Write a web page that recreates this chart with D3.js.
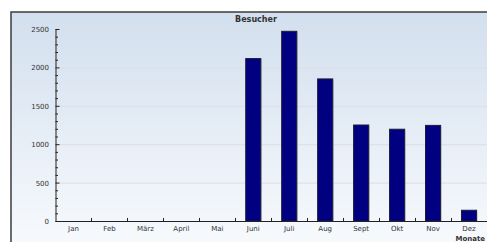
<!DOCTYPE html>
<html lang="de">
<head>
  <meta charset="UTF-8">
  <title>Besucher</title>
  <style>
    body { margin: 0; background: #fff; }
    text { font-family: "DejaVu Sans", Verdana, sans-serif; fill: #333; }
  </style>
</head>
<body>
  <script src="https://d3js.org/d3.v7.min.js"></script>
  <script>
    const WIDTH = 487;
    const HEIGHT = 242;
    const months = ['Jan','Feb','März','April','Mai','Juni','Juli','Aug','Sept','Okt','Nov','Dez'];
    const visitors = [0,0,0,0,0,2115,2470,1850,1250,1195,1245,140];
    const yTicks = [0,500,1000,1500,2000,2500];

    const plot = {left: 55.5, right: 487, top: 29, bottom: 221};

    const svg = d3.select('body').append('svg')
      .attr('width', WIDTH).attr('height', HEIGHT);

    const defs = svg.append('defs');
    const grad = defs.append('linearGradient').attr('id','bg')
      .attr('x1',0).attr('y1',0).attr('x2',0).attr('y2',1);
    grad.append('stop').attr('offset','0%').attr('stop-color','#d2dfee');
    grad.append('stop').attr('offset','100%').attr('stop-color','#fafcfe');

    // framed background
    svg.append('rect')
      .attr('x', 11).attr('y', 12).attr('width', 490).attr('height', 250)
      .attr('fill', 'url(#bg)')
      .attr('stroke', '#3c3c3c').attr('stroke-width', 1.5);

    const xScale = d3.scaleBand()
      .domain(months)
      .range([plot.left, plot.right]);

    const yScale = d3.scaleLinear()
      .domain([0, 2500])
      .range([plot.bottom, plot.top]);

    // grid lines
    svg.append('g').selectAll('line')
      .data(yTicks.filter(d => d > 0))
      .enter().append('line')
      .attr('x1', plot.left).attr('x2', plot.right)
      .attr('y1', d => yScale(d) + 0.5).attr('y2', d => yScale(d) + 0.5)
      .attr('stroke', '#dcdfe3').attr('stroke-width', 1);

    // bars
    const barW = xScale.bandwidth() * 0.42;
    const bars = svg.append('g');
    const data = months.map((m, i) => ({m, v: visitors[i]})).filter(d => d.v > 0);
    bars.selectAll('rect.shadow')
      .data(data).enter().append('rect')
      .attr('class','shadow')
      .attr('x', d => xScale(d.m) + (xScale.bandwidth() - barW) / 2 + 1)
      .attr('y', d => yScale(d.v) + 1)
      .attr('width', barW)
      .attr('height', d => plot.bottom - yScale(d.v))
      .attr('fill', '#9aa4b4').attr('opacity', 0.5);
    bars.selectAll('rect.bar')
      .data(data).enter().append('rect')
      .attr('class','bar')
      .attr('x', d => xScale(d.m) + (xScale.bandwidth() - barW) / 2)
      .attr('y', d => yScale(d.v))
      .attr('width', barW)
      .attr('height', d => plot.bottom - yScale(d.v))
      .attr('fill', '#000080')
      .attr('stroke', '#1c1c3a').attr('stroke-width', 1);

    // y axis
    const yAxis = d3.axisRight(yScale)
      .tickValues(d3.range(0, 2501, 100))
      .tickSize(3)
      .tickFormat('');
    const yG = svg.append('g')
      .attr('transform', `translate(${plot.left},0)`)
      .call(yAxis);
    yG.select('.domain').attr('stroke', '#222').attr('d', `M0.5,${plot.top}V${plot.bottom + 0.5}`);
    yG.selectAll('.tick line').attr('stroke', '#222')
      .attr('x2', d => d % 500 === 0 ? 4 : 2.5);
    svg.append('g').selectAll('text')
      .data(yTicks).enter().append('text')
      .attr('x', 49).attr('y', d => yScale(d) + 3)
      .attr('text-anchor', 'end')
      .attr('font-size', 7)
      .text(d => d);

    // x axis
    const xAxis = d3.axisBottom(xScale).tickSize(0).tickFormat(d => d);
    const xG = svg.append('g')
      .attr('transform', `translate(0,${plot.bottom})`)
      .call(xAxis);
    xG.select('.domain').attr('stroke', '#222').attr('stroke-width', 1.2)
      .attr('d', `M${plot.left},0.5H${plot.right}`);
    xG.selectAll('.tick text')
      .attr('y', 5).attr('font-size', 7).attr('fill', '#333')
      .attr('font-family', '"DejaVu Sans", Verdana, sans-serif');
    // boundary ticks between categories
    xG.append('g').selectAll('line')
      .data(months.slice(1)).enter().append('line')
      .attr('x1', d => Math.round(xScale(d)) + 0.5)
      .attr('x2', d => Math.round(xScale(d)) + 0.5)
      .attr('y1', 0).attr('y2', -3)
      .attr('stroke', '#222');

    // titles
    svg.append('text')
      .attr('x', 256).attr('y', 22)
      .attr('text-anchor', 'middle')
      .attr('font-size', 8).attr('font-weight', 'bold')
      .attr('fill', '#222')
      .text('Besucher');
    svg.append('text')
      .attr('x', 485).attr('y', 240.5)
      .attr('text-anchor', 'end')
      .attr('font-size', 7).attr('font-weight', 'bold')
      .attr('fill', '#222')
      .text('Monate');
  </script>
</body>
</html>
